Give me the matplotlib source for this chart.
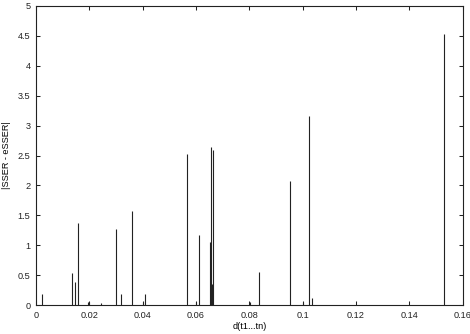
import matplotlib
matplotlib.use("Agg")
from matplotlib import pyplot as plt

# distance d(t1...tn) and |SSER - eSSER| (impulses)
dist = [0.00236, 0.0134, 0.0147, 0.0157, 0.0194, 0.0199, 0.0243, 0.0299,
        0.0317, 0.0360, 0.0400, 0.0409, 0.0565, 0.0600, 0.0612, 0.0651,
        0.0655, 0.0659, 0.0663, 0.0675, 0.0801, 0.0836, 0.0952, 0.1001,
        0.1022, 0.1034, 0.1531]
err = [0.195, 0.534, 0.394, 1.38, 0.06, 0.06, 0.04, 1.27,
       0.185, 1.57, 0.06, 0.185, 2.53, 0.055, 1.17, 1.05,
       2.64, 0.36, 2.59, 0.01, 0.055, 0.56, 2.08, 0.055,
       3.16, 0.12, 4.52]

xticks = [0, 0.02, 0.04, 0.06, 0.08, 0.1, 0.12, 0.14, 0.16]
xticklabels = ["0", "0.02", "0.04", "0.06", "0.08", "0.1", "0.12", "0.14", "0.16"]
yticks = [0, 0.5, 1, 1.5, 2, 2.5, 3, 3.5, 4, 4.5, 5]
yticklabels = ["0", "0.5", "1", "1.5", "2", "2.5", "3", "3.5", "4", "4.5", "5"]

plt.rcParams['font.family'] = ['Liberation Sans', 'DejaVu Sans']
plt.rcParams['font.size'] = 6.6

fig = plt.figure(figsize=(4.7, 3.34), dpi=100)
ax = fig.add_axes([36 / 470, 28.7 / 334, 426.7 / 470, 299.6 / 334])

ax.vlines(dist, 0, err, colors='#222222', linewidth=0.8)

ax.set_xlim(0, 0.16)
ax.set_ylim(0, 5)
ax.set_xticks(xticks)
ax.set_xticklabels(xticklabels)
ax.set_yticks(yticks)
ax.set_yticklabels(yticklabels)
ax.tick_params(direction='in', length=3, width=0.75, top=True, right=True,
               labelsize=6.6, colors='#222222')
ax.tick_params(axis='x', pad=4)
ax.tick_params(axis='y', pad=4)
for s in ax.spines.values():
    s.set_linewidth(0.8)
    s.set_color('#222222')

ax.set_xlabel('d(t1...tn)', fontsize=6.6, labelpad=1.5)
ax.set_ylabel('|SSER - eSSER|', fontsize=6.6, labelpad=5)

fig.savefig('out.png', dpi=100)
